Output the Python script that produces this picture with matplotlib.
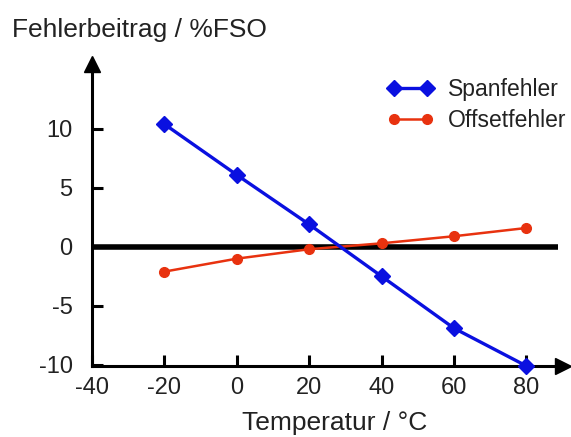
import matplotlib
matplotlib.use("Agg")
import matplotlib.pyplot as plt

plt.rcParams['font.family'] = ['Liberation Sans', 'DejaVu Sans']
plt.rcParams['axes.unicode_minus'] = False

temps = [-20, 0, 20, 40, 60, 80]
span_err = [10.4, 6.1, 1.9, -2.5, -6.9, -10.1]
offset_err = [-2.1, -1.0, -0.2, 0.3, 0.9, 1.6]
xticks = [-40, -20, 0, 20, 40, 60, 80]
yticks = [-10, -5, 0, 5, 10]

txt = '#222222'
blue = '#0a10e0'
red = '#e8320f'

fig = plt.figure(figsize=(5.71, 4.37), dpi=100)
ax = fig.add_axes([92/571, 71/437, 471/571, 302/437])
ax.set_xlim(-40, 90.1)
ax.set_ylim(-10.1, 15.5)

for s in ['top', 'right']:
    ax.spines[s].set_visible(False)
for s in ['left', 'bottom']:
    ax.spines[s].set_linewidth(2.2)
    ax.spines[s].set_color('black')

ax.plot(0, 1, marker='^', ms=11, color='black', transform=ax.transAxes, clip_on=False)
ax.plot(1, 0, marker='>', ms=11, color='black', transform=ax.transAxes, clip_on=False)

ax.hlines(0, -41, 88.7, color='black', lw=4, zorder=2)

ax.plot(temps, span_err, color=blue, lw=2.4, marker='D', ms=8.5, label='Spanfehler',
        clip_on=False, zorder=4)
ax.plot(temps, offset_err, color=red, lw=1.8, marker='o', ms=7, label='Offsetfehler',
        clip_on=False, zorder=3)

ax.set_xticks(xticks)
ax.set_xticklabels([str(v) for v in xticks])
ax.set_yticks(yticks)
ax.set_yticklabels([str(v) for v in yticks])
ax.tick_params(axis='x', direction='in', length=8, width=2.2, pad=8, labelsize=17, labelcolor=txt)
ax.tick_params(axis='y', direction='in', length=8, width=2.2, pad=14, labelsize=17, labelcolor=txt)

leg = ax.legend(loc='upper left', bbox_to_anchor=(387/571, 1 - 78/437),
                bbox_transform=fig.transFigure, frameon=False, fontsize=16.5,
                handlelength=2.05, handletextpad=0.6, labelspacing=0.35,
                borderpad=0, borderaxespad=0, numpoints=2)
for t in leg.get_texts():
    t.set_color(txt)

fig.text(12/571, 1 - 37/437, 'Fehlerbeitrag / %FSO', fontsize=19, color=txt,
         ha='left', va='baseline')
fig.text(335/571, 1 - 430/437, 'Temperatur / °C', fontsize=19, color=txt,
         ha='center', va='baseline')

fig.savefig('out.png', dpi=100)
